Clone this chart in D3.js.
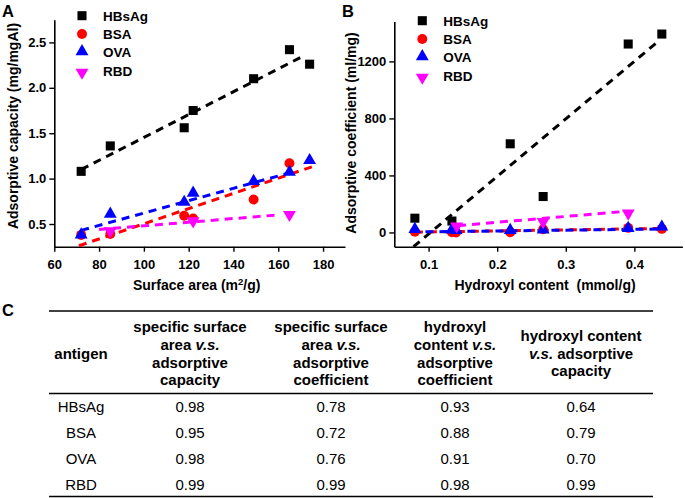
<!DOCTYPE html>
<html><head><meta charset="utf-8">
<script src="https://cdn.jsdelivr.net/npm/d3@7"></script>
<style>
body{margin:0;background:#fff;}
svg{display:block;font-family:Arial,"Liberation Sans",sans-serif;}
</style></head>
<body><svg id="c" width="685" height="498"></svg>
<script>
// ---------- DATA ----------
const antigens = ["HBsAg","BSA","OVA","RBD"];
const colors = ["#000000","#ff0000","#0000ff","#ff00ff"];
const shapes = ["square","circle","triangle","triangleDown"];

// Panel A: surface area (m2/g) vs adsorptive capacity (mg/mgAl)
const aHBsAg = [[72,1.08],[85,1.36],[118,1.56],[122,1.75],[149,2.10],[165,2.42],[174,2.26]];
const aBSA   = [[72,0.38],[85,0.39],[118,0.59],[122,0.56],[149,0.77],[165,1.17]];
const aOVA   = [[72,0.37],[85,0.60],[118,0.73],[122,0.83],[149,0.96],[165,1.06],[174,1.19]];
const aRBD   = [[85,0.44],[122,0.55],[165,0.62]];
// fitted trend lines (endpoints)
const aFitHBsAg = [[72,1.10],[172,2.36]];
const aFitBSA   = [[71,0.26],[175,1.13]];
const aFitOVA   = [[72,0.43],[166,1.07]];
const aFitRBD   = [[80,0.44],[160,0.60]];
const aXTicks = [60,80,100,120,140,160,180];
const aYTicks = [0.5,1.0,1.5,2.0,2.5];

// Panel B: hydroxyl content (mmol/g) vs adsorptive coefficient (ml/mg)
const bHBsAg = [[0.08,100],[0.134,80],[0.219,622],[0.267,252],[0.391,1322],[0.44,1392]];
const bBSA   = [[0.08,5],[0.134,2],[0.14,0],[0.219,2],[0.267,22],[0.391,32],[0.44,25]];
const bOVA   = [[0.08,15],[0.134,12],[0.14,8],[0.219,8],[0.267,12],[0.391,22],[0.44,32]];
const bRBD   = [[0.141,55],[0.267,85],[0.391,145]];
const bFitHBsAg = [[0.078,-100],[0.432,1330]];
const bFitBSA   = [[0.08,2],[0.44,28]];
const bFitOVA   = [[0.075,3],[0.44,24]];
const bFitRBD   = [[0.143,48],[0.38,145]];
const bXTicks = [0.1,0.2,0.3,0.4];
const bYTicks = [0,400,800,1200];

// Panel C table
const tableHeaders = [
  [["antigen"]],
  [["specific surface"],["area ",["v.s."]],["adsorptive"],["capacity"]],
  [["specific surface"],["area ",["v.s."]],["adsorptive"],["coefficient"]],
  [["hydroxyl"],["content ",["v.s."]],["adsorptive"],["coefficient"]],
  [["hydroxyl content"],[["v.s."]," adsorptive"],["capacity"]]
];
const colSurfCap  = ["0.98","0.95","0.98","0.99"];
const colSurfCoef = ["0.78","0.72","0.76","0.99"];
const colHydCoef  = ["0.93","0.88","0.91","0.98"];
const colHydCap   = ["0.64","0.79","0.70","0.99"];

// ---------- DRAW ----------
const svg = d3.select("#c");
const symType = {square:d3.symbolSquare, circle:d3.symbolCircle, triangle:d3.symbolTriangle, triangleDown:d3.symbolTriangle};
const symSize = {square:82, circle:78, triangle:72, triangleDown:72};
function marker(g, shape, x, y, color){
  const p = g.append("path").attr("d", d3.symbol(symType[shape], symSize[shape])())
    .attr("fill", color);
  if(shape==="triangleDown") p.attr("transform",`translate(${x},${y+1.5}) rotate(180)`);
  else if(shape==="triangle") p.attr("transform",`translate(${x},${y-1})`);
  else p.attr("transform",`translate(${x},${y})`);
}

function panel(cfg){
  const g = svg.append("g");
  const x = d3.scaleLinear().domain(cfg.xDom).range(cfg.xRange);
  const y = d3.scaleLinear().domain(cfg.yDom).range(cfg.yRange);
  const xa = g.append("g").attr("transform",`translate(0,${cfg.yRange[0]})`)
    .call(d3.axisBottom(x).tickValues(cfg.xTicks).tickSize(5).tickPadding(8).tickFormat(cfg.xFmt).tickSizeOuter(0));
  const ya = g.append("g").attr("transform",`translate(${cfg.xRange[0]},0)`)
    .call(d3.axisLeft(y).tickValues(cfg.yTicks).tickSize(5).tickPadding(3).tickFormat(cfg.yFmt).tickSizeOuter(0));
  [xa,ya].forEach(a=>{
    a.select(".domain").attr("stroke","#000").attr("stroke-width",1.6);
    a.selectAll(".tick line").attr("stroke","#000").attr("stroke-width",1.4);
    a.selectAll("text").attr("font-size",13).attr("font-weight","bold").attr("fill","#000")
      .attr("font-family","Arial,'Liberation Sans',sans-serif");
  });
  const line = d3.line().x(d=>x(d[0])).y(d=>y(d[1]));
  cfg.fits.forEach((f,i)=>{
    g.append("path").attr("d",line(f)).attr("stroke",colors[i]).attr("stroke-width",3)
      .attr("stroke-dasharray","8,6").attr("fill","none");
  });
  cfg.series.forEach((s,i)=>{
    s.forEach(d=>marker(g, shapes[i], x(d[0]), y(d[1]), colors[i]));
  });
  antigens.forEach((n,i)=>{
    const ly = cfg.legY + i*18.4;
    marker(g, shapes[i], cfg.legX, ly, colors[i]);
    g.append("text").attr("x",cfg.legX+21).attr("y",ly).attr("dy","0.36em")
      .attr("font-size",13.5).attr("font-weight","bold").text(n);
  });
  g.append("text").attr("x",cfg.labX).attr("y",17).attr("font-size",16.5).attr("font-weight","bold").text(cfg.label);
  const xt = g.append("text").attr("x",cfg.xtX).attr("y",290)
    .attr("text-anchor","middle").attr("font-size",14).attr("font-weight","bold");
  cfg.xTitle(xt);
  g.append("text").attr("transform",`translate(${cfg.ytX},${cfg.ytY}) rotate(-90)`)
    .attr("text-anchor","middle").attr("font-size",14).attr("font-weight","bold").text(cfg.yTitle);
  return {x,y};
}

panel({
  xDom:[60,189.8], xRange:[54.3,345], yDom:[0.25,2.75], yRange:[246.7,19.7],
  xTicks:aXTicks, yTicks:aYTicks, xFmt:d3.format("d"), yFmt:d3.format(".1f"),
  series:[aHBsAg,aBSA,aOVA,aRBD], fits:[aFitHBsAg,aFitBSA,aFitOVA,aFitRBD],
  legX:82, legY:15.7, label:"A", labX:2, xtX:196.7,
  xTitle:t=>{t.append("tspan").text("Surface area (m");
             t.append("tspan").attr("dy",-5).attr("font-size",9.5).text("2");
             t.append("tspan").attr("dy",5).text("/g)");},
  yTitle:"Adsorptive capacity (mg/mgAl)", ytX:18, ytY:126
});
panel({
  xDom:[0.05,0.47], xRange:[394.3,682.4], yDom:[-100,1480], yRange:[246.7,21.5],
  xTicks:bXTicks, yTicks:bYTicks, xFmt:d3.format(".1f"), yFmt:d3.format("d"),
  series:[bHBsAg,bBSA,bOVA,bRBD], fits:[bFitHBsAg,bFitBSA,bFitOVA,bFitRBD],
  legX:422.3, legY:20.7, label:"B", labX:342, xtX:545,
  xTitle:t=>{t.attr("xml:space","preserve").text("Hydroxyl content  (mmol/g)");},
  yTitle:"Adsorptive coefficient (ml/mg)", ytX:356, ytY:133
});

// ---------- TABLE C ----------
const tg = svg.append("g");
tg.append("text").attr("x",2).attr("y",316).attr("font-size",16.5).attr("font-weight","bold").text("C");
const tLeft = 49, tRight = 653;
const colX = [81, 190, 331, 455, 581];
const hTop = 311, hBot = 393.5, tBot = 496.5;
[hTop,hBot,tBot].forEach(yy=>{
  tg.append("line").attr("x1",tLeft).attr("x2",tRight).attr("y1",yy).attr("y2",yy)
    .attr("stroke","#000").attr("stroke-width",1.6);
});
const lineH = 17.8;
tableHeaders.forEach((lines,ci)=>{
  const n = lines.length;
  const mid = (hTop+hBot)/2 + 1;
  lines.forEach((parts,li)=>{
    const yy = mid + (li-(n-1)/2)*lineH;
    const t = tg.append("text").attr("x",colX[ci]).attr("y",yy).attr("dy","0.36em")
      .attr("text-anchor","middle").attr("font-size",15).attr("font-weight","bold")
      .attr("xml:space","preserve");
    parts.forEach(p=>{
      if(Array.isArray(p)) t.append("tspan").attr("font-style","italic").text(p[0]);
      else t.append("tspan").text(p);
    });
  });
});
const cols = [antigens, colSurfCap, colSurfCoef, colHydCoef, colHydCap];
const rowY = [406.7, 432.7, 459, 485];
cols.forEach((c,ci)=>{
  c.forEach((v,ri)=>{
    tg.append("text").attr("x",colX[ci]).attr("y",rowY[ri]).attr("dy","0.36em")
      .attr("text-anchor","middle").attr("font-size",15).text(v);
  });
});
</script></body></html>
